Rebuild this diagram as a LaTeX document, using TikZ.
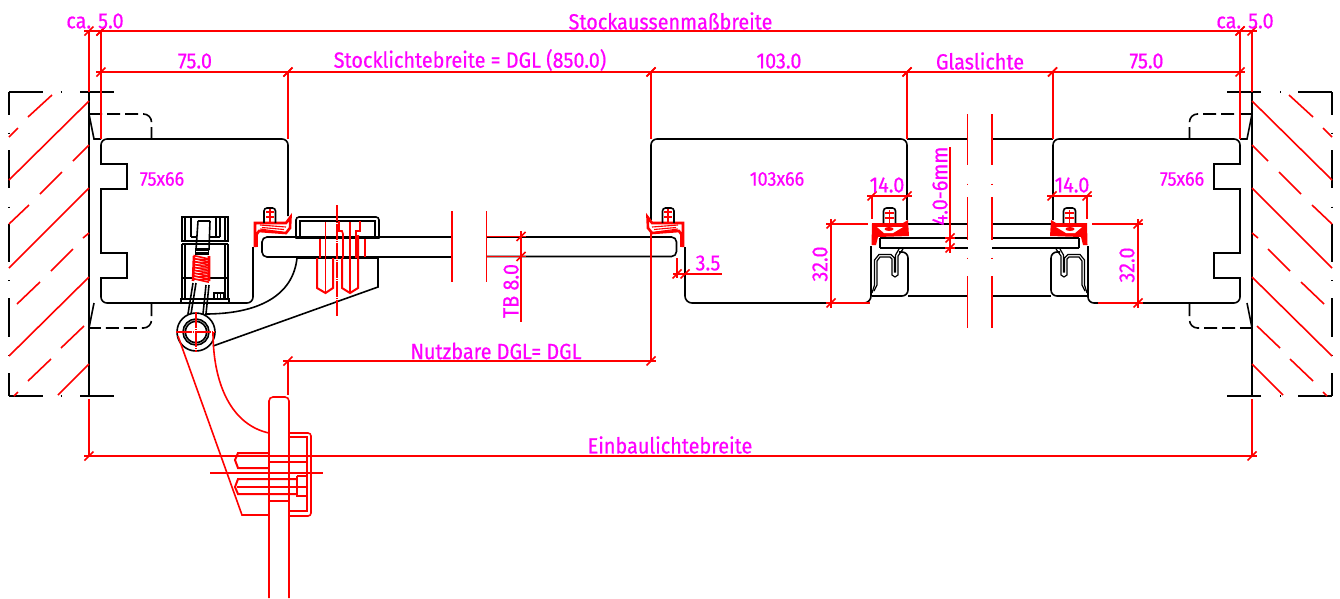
\documentclass[tikz,border=0pt]{standalone}
\usepackage{fontspec}
\setmainfont{Fira Sans}[BoldFont={Fira Sans},BoldFeatures={FakeBold=0.5,FakeStretch=0.9}]
\definecolor{cadred}{RGB}{255,0,0}
\definecolor{cadmag}{RGB}{255,0,255}
\tikzset{
  blk/.style={draw=black,line width=1.6pt},
  blkthin/.style={draw=black,line width=1.2pt},
  rd/.style={draw=cadred,line width=1.6pt},
  rdmid/.style={draw=cadred,line width=2pt},
  rdbold/.style={draw=cadred,line width=2.6pt},
  rdthin/.style={draw=cadred,line width=1.1pt},
  dashblk/.style={draw=black,line width=1.6pt,dash pattern=on 13pt off 5pt},
  label/.style={text=cadmag,inner sep=0pt,font=\fontsize{22}{22}\selectfont\bfseries},
  slabel/.style={text=cadmag,inner sep=0pt,font=\fontsize{20}{20}\selectfont\bfseries},
  cline/.style={draw=cadred,line width=1.3pt,dash pattern=on 16pt off 1pt on 1pt off 1pt},
}
\newcommand\tick[2]{\draw[rd] (#1-4.5,#2+4.5) -- (#1+4.5,#2-4.5);}
\newcommand\dimh[3]{\draw[rd] (#1-5,#3) -- (#2+5,#3);\tick{#1}{#3}\tick{#2}{#3}}
\newcommand\dimv[3]{\draw[rd] (#3,#1-5) -- (#3,#2+5);\tick{#3}{#1}\tick{#3}{#2}}
\newcommand\wallpart{%
  \draw[blk] (89,92) -- (89,396);
  \foreach \y in {92,396} {
    \draw[blk] (9,\y) -- (43,\y) (60.5,\y) -- (61.5,\y) (80,\y) -- (114,\y);
  }
  \draw[blk] (9,92) -- (9,115) (9,132.5) -- (9,133.5) (9,150) -- (9,188)
    (9,206.5) -- (9,207.5) (9,224) -- (9,262) (9,280) -- (9,281)
    (9,298) -- (9,337) (9,354.5) -- (9,355.5) (9,373) -- (9,396);
  \draw[rd] (9,180) -- (89,101)  (9,268) -- (89,188)  (9,356) -- (89,277)
    (9,137) -- (18,128) (28,117) -- (52,95)
    (9,224) -- (29,205) (40,194) -- (62,172) (73,161) -- (89,145)
    (17,304) -- (40,282) (51,271) -- (73,249) (83,238) -- (89,233)
    (28,381) -- (51,359) (61,348) -- (84,326)
    (58,395) -- (89,364) (14,396) -- (18,392);
  \draw[dashblk,rounded corners=8pt] (89,114) -- (151.5,114) -- (151.5,139);
  \draw[blk] (89,114) -- (94,139) -- (101,139);
  \draw[dashblk,rounded corners=8pt] (151.5,303) -- (151.5,328) -- (89,328);
  \draw[blk] (94,303) -- (89,328);
  \draw[blk] (101,150) -- (101,164) -- (127,164) -- (127,189) -- (101,189) -- (101,253) -- (127,253) -- (127,278) -- (101,278) -- (101,285);
}
\newcommand\gasket{%
  \draw[rdbold] (683,247) -- (683,223) -- (652,223) -- (647.5,217) -- (648,228) -- (652,233) -- (679,231) -- (681,234);
  \draw[rd] (681,234) -- (681,247);
  \draw[rdthin] (652,227) -- (678,225) (654,229.5) -- (676,227.5) (656,232) -- (678,229);
  \draw[blk,rounded corners=3pt] (662.5,223) -- (662.5,208) -- (674,208) -- (674,223);
  \draw[rd] (668,209) -- (668,222) (664,212) -- (672,212) (664,217) -- (672,217);
}
\newcommand\bead{%
  \fill[cadred] (872,223) -- (903,223) -- (908,220) -- (909,236) -- (878,237) -- (876,245) -- (871.5,245) -- cycle;
  \fill[white] (877,227) -- (903,227) -- (893,233) -- (884,233) -- cycle;
  \fill[cadred] (889,229) ellipse[x radius=4.5pt,y radius=2pt];
  \draw[blk,rounded corners=3pt] (883.5,223) -- (883.5,208) -- (895.5,208) -- (895.5,223);
  \draw[rd] (889.5,210) -- (889.5,224) (885,213) -- (894,213) (885,218) -- (894,218);
  \draw[blk] (880,238) -- (880,248);
  \draw[blk,rounded corners=6pt] (899,252) -- (908,252) -- (908,296) -- (872,296);
  \draw[blkthin] (874,291) -- (877,285) -- (877,261) -- (880,257) -- (890,257) -- (892,259) -- (892,275) -- (895,277) -- (898,275) -- (898,256) -- (903,249);
  \draw[blkthin] (872,293) -- (874.5,285) -- (874.5,260) -- (879,254.5) -- (891,254.5) -- (894.5,258) -- (894.5,272) -- (895.5,272) -- (895.5,255) -- (899,249);
}
\newcommand\breakv[1]{%
  \draw[rd] (#1,114) -- (#1,165) (#1,183.5) -- (#1,184.5) (#1,197) -- (#1,240) (#1,257.5) -- (#1,258.5) (#1,276) -- (#1,328);
}
\begin{document}
\begin{tikzpicture}[x=1pt,y=-1pt]
\useasboundingbox (0,0) rectangle (1340,598);
\wallpart
\begin{scope}[shift={(1341,0)},xscale=-1]
\wallpart
\end{scope}
% left frame
\draw[blk,rounded corners=6pt] (288,216) -- (288,139) -- (101,139) -- (101,150);
\draw[blk,rounded corners=6pt] (101,285) -- (101,303) -- (253,303) -- (253,247);
% middle frame
\draw[blk,rounded corners=6pt] (651,220) -- (651,139) -- (907,139) -- (907,220);
\draw[blk,rounded corners=7pt] (685,247) -- (685,303) -- (871,303) -- (871,246);
% right frame
\draw[blk,rounded corners=6pt] (1240,150) -- (1240,139) -- (1053,139) -- (1053,220);
\draw[blk,rounded corners=6pt] (1240,285) -- (1240,303) -- (1088,303) -- (1088,246);
% glass lines
\draw[blk] (907,139) -- (968,139) (992,139) -- (1053,139);
\draw[blk] (907,224) -- (968,224) (992,224) -- (1052,224);
\draw[blk] (880,238) -- (968,238) (992,238) -- (1079,238);
\draw[blk] (880,248) -- (968,248) (992,248) -- (1079,248);
% gaskets
\gasket
\begin{scope}[shift={(938,0)},xscale=-1]\gasket\end{scope}
\bead
\begin{scope}[shift={(1959,0)},xscale=-1]\bead\end{scope}
\fill[white] (968.2,280) rectangle (991.2,310);
\draw[blk] (908,296) -- (967,296) (992,296) -- (1051,296);
\breakv{967.5}
\breakv{992}
% door leaf
\draw[blk,rounded corners=5pt] (452,237) -- (262,237) -- (262,257) -- (452,257);
\draw[blk,rounded corners=5pt] (487,237) -- (676.5,237) -- (676.5,256.5) -- (487,256.5);
\draw[rd] (452,211) -- (452,281.5) (486.5,211) -- (486.5,281.5);
% hinge plate
\draw[blk,rounded corners=3pt] (296,238.5) -- (296,217) -- (379,217) -- (379,238.5);
\draw[blk] (296,238.5) -- (379,238.5);
\draw[blk] (300,238) -- (300,221) -- (375,221) -- (375,238);
% hinge arm
\draw[blk] (205,314) .. controls (258,314) and (293,296) .. (297,258) -- (378,258) -- (378,287) -- (213,346);
% red screws
\draw[rd] (320,239) -- (320,258) (365,239) -- (365,257);
\draw[rd] (325.5,222) -- (325.5,293) (350,222) -- (350,293);
\draw[rd] (339,221) -- (339,231) -- (342,231) -- (343,234) -- (343,258) (360,221) -- (360,231) -- (356,231) -- (356,234) -- (356,258);
\draw[rdmid] (317,258) -- (317,288) -- (325.5,293) -- (333,288) -- (333,258);
\draw[rdmid] (342,258) -- (342,288) -- (350,293) -- (358,288) -- (358,235);
\draw[cline] (337,205) -- (337,317);
% lock body
\draw[blk] (182,241) -- (182,217) -- (228,217) -- (228,241) -- cycle;
\draw[blk] (182,244) -- (228,244) (182,244) -- (182,299) (228,244) -- (228,299);
\draw[blkthin] (185,217) -- (185,241) (225,217) -- (225,241) (185,244) -- (185,299) (225,244) -- (225,299);
\draw[blkthin] (191,217) -- (191,237) (216,217) -- (216,237) (220,217) -- (220,237) (191,237) -- (197,237) (210,237) -- (220,237);
\draw[blk] (198,221) -- (210,221) (198,221) -- (196,250) (210,221) -- (209,250);
\fill[black] (195,248) rectangle (209,255);
\draw[white,line width=.8pt] (196,251.5) -- (208,251.5);
\draw[blkthin] (182,278) -- (193,278) (209,278) -- (228,278);
\draw[blk] (181,303) -- (181,299) -- (229,299) -- (229,303);
\draw[blk] (214,299) -- (214,293) -- (224,293) -- (224,299);
\draw[blkthin] (217.5,293) -- (217.5,299) (220.5,293) -- (220.5,299);
\draw[blk] (193,283) -- (188,314) (196,283) -- (191,314) (206,285) -- (203,314) (209,285) -- (206,314);
% spring
\draw[rdbold] (194,256) -- (193,281) (209,256) -- (209,281);
\foreach \y in {256.5,259.4,...,282} {
  \draw[rd] (193.5,\y-1) -- (209,\y+2.5);
}
\foreach \y in {258,260.9,...,280} {
  \draw[rdthin] (193.5,\y+1) -- (209,\y+1.5);
}
% pivot
\draw[blk,fill=white] (196,332) circle[radius=19pt];
\draw[blk] (196,332) circle[radius=13pt] (196,332) circle[radius=10.7pt];
\draw[cline] (176,332) -- (215,332);
\draw[cline] (196,312) -- (196,352);
% handle
\draw[rd] (178,336) -- (242,515) -- (269,515);
\draw[rd] (213,332) .. controls (213,385) and (232,425) .. (269,433);
\draw[rd,rounded corners=4pt] (269,598) -- (269,397) -- (289,397) -- (289,598);
\draw[rd,rounded corners=3pt] (289,433) -- (311,433) -- (311,516) -- (289,516);
\draw[rd] (289,437) -- (307,437) -- (307,511) -- (289,511);
\draw[rdmid] (269,453) -- (238,453) -- (235,460) -- (238,468) -- (269,468);
\draw[rdthin] (269,462) -- (307,462);
\draw[rdmid] (297,479) -- (238,479) -- (235,487) -- (238,494) -- (297,494);
\draw[rdthin] (237,487) -- (307,487);
\draw[rd] (297,476) -- (307,476) (297,476) -- (297,496) -- (307,496);
\draw[rdthin] (269,501) -- (289,501);
\draw[rdthin] (210,473) -- (323,473);
% dimensions
\dimh{89}{101}{31}
\dimh{101}{1240}{31}
\dimh{1240}{1252}{31}
\dimh{101}{288}{72}
\dimh{288}{651}{72}
\dimh{651}{907}{72}
\dimh{907}{1052.5}{72}
\dimh{1052.5}{1240}{72}
\draw[rd] (89,31) -- (89,92);
\draw[rdbold] (101,31) -- (101,139);
\draw[rdbold] (1240,31) -- (1240,139);
\draw[rd] (1252,31) -- (1252,92);
\draw[rdmid] (288,72) -- (288,139) (651,72) -- (651,139) (907,72) -- (907,139) (1052.5,72) -- (1052.5,139);
\dimh{288}{651}{361}
\draw[rd] (288,361) -- (288,395) (651,233) -- (651,361);
\dimh{89}{1252}{456}
\draw[rd] (89,399) -- (89,456) (1252,399) -- (1252,456);
\draw[rd] (677,258) -- (677,278);
\tick{677}{274}\tick{685}{274}
\draw[rd] (673,274) -- (722,274);
\draw[rd] (487,236.5) -- (526,236.5) (487,256.5) -- (526,256.5) (521,231) -- (521,322);
\tick{521}{236.5}\tick{521}{256.5}
\draw[rd] (950,147) -- (950,253);
\tick{950}{238}\tick{950}{248}
\draw[rd] (945,238) -- (955,238) (945,248) -- (955,248);
\dimh{872}{907}{196}
\draw[rd] (872,196) -- (872,219);
\dimh{1052}{1087}{196}
\draw[rd] (1087,196) -- (1087,219);
\draw[rd] (826,224) -- (868,224) (826,303) -- (870,303);
\dimv{224}{303}{831}
\draw[rd] (1092,224) -- (1143,224) (1098,303) -- (1143,303);
\dimv{224}{303}{1138}
% texts
\node[label] (tca1) at (95,21) {ca. 5.0};
\node[label] (tca2) at (1245,21) {ca. 5.0};
\node[label] (taussen) at (670.5,21) {Stockaussenmaßbreite};
\node[label] (t75a) at (195,61) {75.0};
\node[label] (tstock) at (470,60) {Stocklichtebreite = DGL (850.0)};
\node[label] (t103) at (779,61) {103.0};
\node[label] (tglas) at (980,61) {Glaslichte};
\node[label] (t75b) at (1146.5,61) {75.0};
\node[slabel] (tp1) at (162,179) {75x66};
\node[slabel] (tp2) at (777,179) {103x66};
\node[slabel] (tp3) at (1182,179) {75x66};
\node[label] (t14a) at (887,185) {14.0};
\node[label] (t14b) at (1072,185) {14.0};
\node[label] (t35) at (708,263) {3.5};
\node[label,rotate=90] (t32a) at (820,264) {32.0};
\node[label,rotate=90] (t32b) at (1127,265) {32.0};
\node[label,rotate=90] (t46) at (940,186) {4.0-6mm};
\node[label,rotate=90] (ttb) at (511,291) {TB 8.0};
\node[label] (tnutz) at (496,351) {Nutzbare DGL= DGL};
\node[label] (teinb) at (670,445) {Einbaulichtebreite};
\end{tikzpicture}
\end{document}
